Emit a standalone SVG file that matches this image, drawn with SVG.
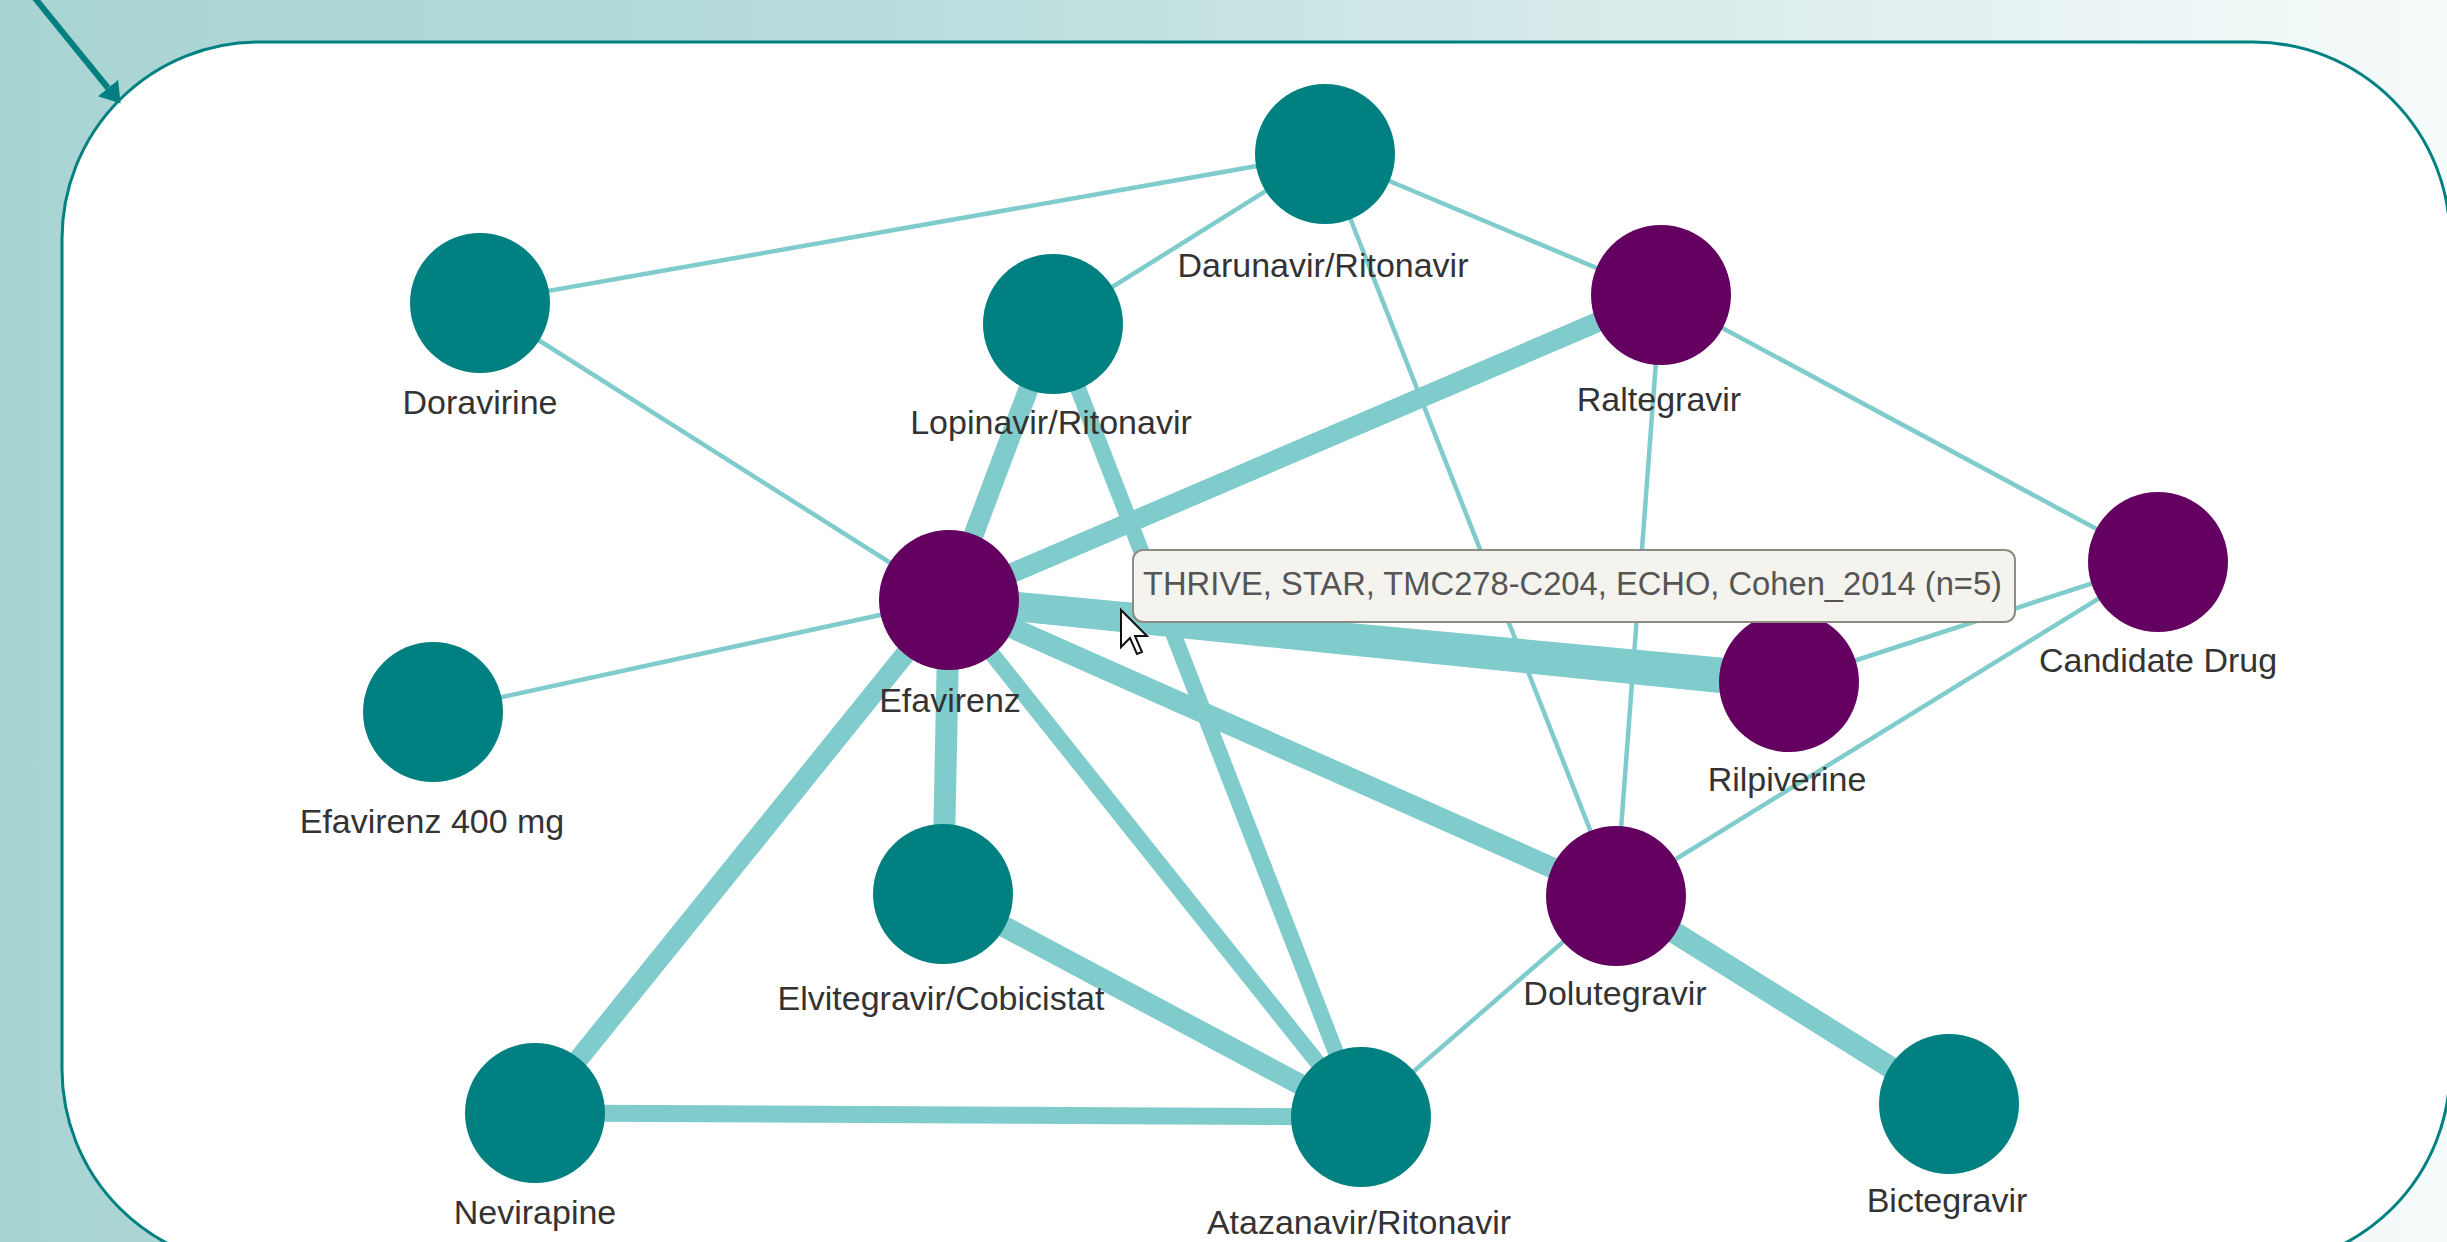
<svg xmlns="http://www.w3.org/2000/svg" width="2447" height="1242" viewBox="0 0 2447 1242">
  <defs>
    <linearGradient id="bg" x1="0" y1="0" x2="1" y2="0">
      <stop offset="0" stop-color="#a9d4d4"/>
      <stop offset="0.33" stop-color="#b5dbdb"/>
      <stop offset="0.7" stop-color="#dcecec"/>
      <stop offset="1" stop-color="#f6fbfb"/>
    </linearGradient>
    <marker id="arrow" viewBox="0 0 20 26" refX="0" refY="13" markerWidth="20" markerHeight="26" markerUnits="userSpaceOnUse" orient="auto">
      <path d="M0,0 L20,13 L0,26 z" fill="#008080"/>
    </marker>
    <style>
      .edge { stroke: #80cbcb; stroke-linecap: butt; fill: none; }
      .thin { stroke-width: 4.5; }
      .band { fill: #80cbcb; stroke: none; }
      .teal { fill: #008080; }
      .purple { fill: #630060; }
      .label { font-family: "Liberation Sans", Arial, sans-serif; font-size: 34px; fill: #333333; text-anchor: middle; }
      .tip-box { fill: #f4f3ee; stroke: #8c8c84; stroke-width: 2; }
      .tip-text { font-family: "Liberation Sans", Arial, sans-serif; font-size: 32.7px; fill: #555555; }
    </style>
  </defs>

  <rect x="0" y="0" width="2447" height="1242" fill="url(#bg)"/>
  <rect id="panel" x="62" y="42" width="2388" height="1224" rx="197" ry="197" fill="#ffffff" stroke="#008080" stroke-width="3"/>
  <line x1="34" y1="-3" x2="108" y2="88" stroke="#008080" stroke-width="6" marker-end="url(#arrow)"/>

  <g id="connectors">
    <line class="edge thin" x1="1325" y1="154" x2="480" y2="303"/>
    <line class="edge thin" x1="1325" y1="154" x2="1053" y2="324"/>
    <line class="edge thin" x1="1325" y1="154" x2="1661" y2="295"/>
    <line class="edge thin" x1="1325" y1="154" x2="1616" y2="896"/>
    <line class="edge thin" x1="480" y1="303" x2="949" y2="600"/>
    <line class="edge thin" x1="433" y1="712" x2="949" y2="600"/>
    <line class="edge thin" x1="1661" y1="295" x2="2158" y2="562"/>
    <line class="edge thin" x1="1661" y1="295" x2="1616" y2="896"/>
    <line class="edge thin" x1="1789" y1="682" x2="2158" y2="562"/>
    <line class="edge thin" x1="2158" y1="562" x2="1616" y2="896"/>
    <line class="edge thin" x1="1616" y1="896" x2="1361" y2="1117"/>
    <line class="edge" stroke-width="20" x1="1053" y1="324" x2="949" y2="600"/>
    <line class="edge" stroke-width="16" x1="1053" y1="324" x2="1361" y2="1117"/>
    <line class="edge" stroke-width="20" x1="1661" y1="295" x2="949" y2="600"/>
    <path class="band" d="M947.6,614.4 L950.4,585.6 L1790.8,664.1 L1787.2,699.9 Z"/>
    <line class="edge" stroke-width="21" x1="949" y1="600" x2="1616" y2="896"/>
    <line class="edge" stroke-width="22" x1="949" y1="600" x2="943" y2="894"/>
    <line class="edge" stroke-width="20" x1="949" y1="600" x2="535" y2="1113"/>
    <line class="edge" stroke-width="16" x1="949" y1="600" x2="1361" y2="1117"/>
    <line class="edge" stroke-width="21" x1="943" y1="894" x2="1361" y2="1117"/>
    <line class="edge" stroke-width="17" x1="535" y1="1113" x2="1361" y2="1117"/>
    <line class="edge" stroke-width="22" x1="1616" y1="896" x2="1949" y2="1104"/>
  </g>

  <g id="node-darunavir">
    <circle class="teal" cx="1325" cy="154" r="70"/>
    <text class="label" x="1323" y="277">Darunavir/Ritonavir</text>
  </g>
  <g id="node-doravirine">
    <circle class="teal" cx="480" cy="303" r="70"/>
    <text class="label" x="480" y="414">Doravirine</text>
  </g>
  <g id="node-lopinavir">
    <circle class="teal" cx="1053" cy="324" r="70"/>
    <text class="label" x="1051" y="434">Lopinavir/Ritonavir</text>
  </g>
  <g id="node-raltegravir">
    <circle class="purple" cx="1661" cy="295" r="70"/>
    <text class="label" x="1659" y="411">Raltegravir</text>
  </g>
  <g id="node-efavirenz">
    <circle class="purple" cx="949" cy="600" r="70"/>
    <text class="label" x="950" y="712">Efavirenz</text>
  </g>
  <g id="node-candidate">
    <circle class="purple" cx="2158" cy="562" r="70"/>
    <text class="label" x="2158" y="672">Candidate Drug</text>
  </g>
  <g id="node-efavirenz400">
    <circle class="teal" cx="433" cy="712" r="70"/>
    <text class="label" x="432" y="833">Efavirenz 400 mg</text>
  </g>
  <g id="node-rilpiverine">
    <circle class="purple" cx="1789" cy="682" r="70"/>
    <text class="label" x="1787" y="791">Rilpiverine</text>
  </g>
  <g id="node-elvitegravir">
    <circle class="teal" cx="943" cy="894" r="70"/>
    <text class="label" x="941" y="1010">Elvitegravir/Cobicistat</text>
  </g>
  <g id="node-dolutegravir">
    <circle class="purple" cx="1616" cy="896" r="70"/>
    <text class="label" x="1615" y="1005">Dolutegravir</text>
  </g>
  <g id="node-nevirapine">
    <circle class="teal" cx="535" cy="1113" r="70"/>
    <text class="label" x="535" y="1224">Nevirapine</text>
  </g>
  <g id="node-atazanavir">
    <circle class="teal" cx="1361" cy="1117" r="70"/>
    <text class="label" x="1359" y="1234">Atazanavir/Ritonavir</text>
  </g>
  <g id="node-bictegravir">
    <circle class="teal" cx="1949" cy="1104" r="70"/>
    <text class="label" x="1947" y="1212">Bictegravir</text>
  </g>

  <g id="tooltip">
    <rect class="tip-box" x="1133" y="550" width="882" height="72" rx="10" ry="10"/>
    <text class="tip-text" x="1143" y="595">THRIVE, STAR, TMC278-C204, ECHO, Cohen_2014 (n=5)</text>
  </g>

  <path id="cursor" d="M1121,610 L1121,647 L1130,638 L1137,654 L1142,652 L1135,636 L1147,636 Z" fill="#ffffff" stroke="#111111" stroke-width="2" stroke-linejoin="miter"/>
</svg>
